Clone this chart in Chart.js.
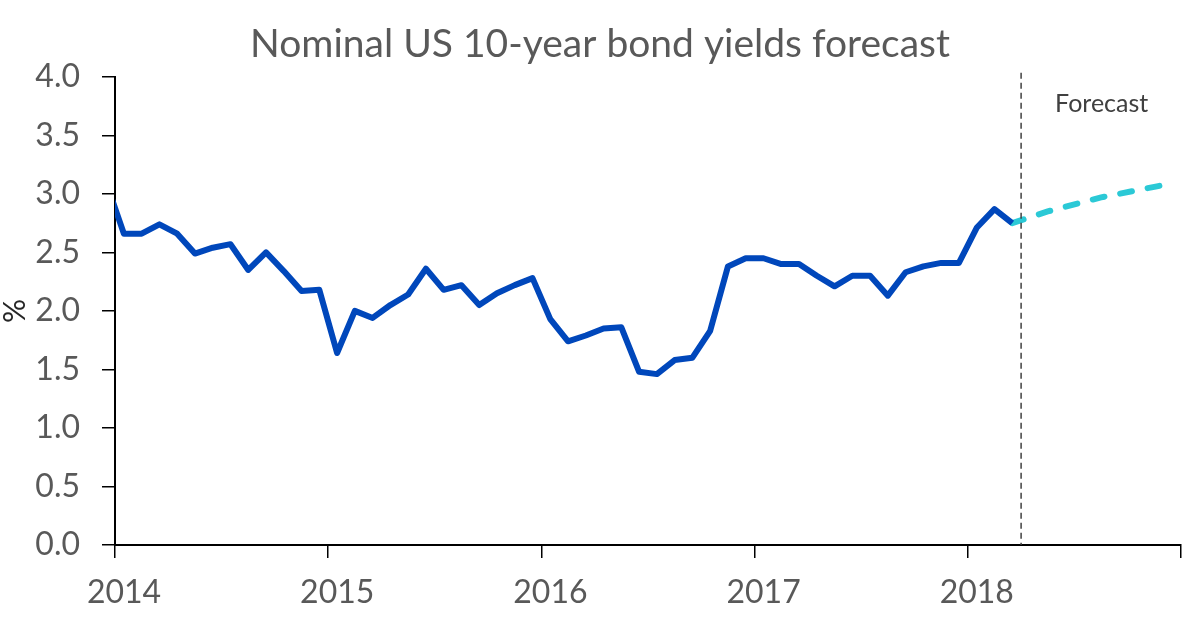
<!DOCTYPE html>
<html>
<head>
<meta charset="utf-8">
<script src="https://cdn.jsdelivr.net/npm/chart.js@4.4.1/dist/chart.umd.min.js"></script>
<style>
  html, body { margin: 0; padding: 0; background: #fff; }
  #wrap { width: 1200px; height: 632px; position: relative; }
</style>
</head>
<body>
<div id="wrap"><canvas id="grafico"></canvas></div>
<script>
// month-end yields, Dec 2013 .. Mar 2018 (Dec 2013 only enters at the left edge)
const historyValues = [
    3.10,
    2.66, 2.66, 2.74, 2.66, 2.49, 2.54, 2.57, 2.35, 2.50, 2.34, 2.17, 2.18,
    1.64, 2.00, 1.94, 2.05, 2.14, 2.36, 2.18, 2.22, 2.05, 2.15, 2.22, 2.28,
    1.93, 1.74, 1.79, 1.85, 1.86, 1.48, 1.46, 1.58, 1.60, 1.83, 2.38, 2.45,
    2.45, 2.40, 2.40, 2.30, 2.21, 2.30, 2.30, 2.13, 2.33, 2.38, 2.41, 2.41,
    2.71, 2.87, 2.75
];
// forecast, Mar 2018 .. Dec 2018
const forecastValues = [2.75, 2.80, 2.85, 2.89, 2.93, 2.97, 3.00, 3.03, 3.06, 3.09];
const yearLabels = ['2014', '2015', '2016', '2017', '2018'];
const yTicks = [0, 0.5, 1, 1.5, 2, 2.5, 3, 3.5, 4];
const forecastLabel = 'Forecast';

// months counted from Jan 2014 (month 0-based), each point sits mid-month
function mes(year, month) {
    return (year - 2014) * 12 + month + 0.5;
}

const historyPoints = historyValues.map((v, i) => ({ x: mes(2013, 11 + i), y: v }));
const forecastPoints = forecastValues.map((v, i) => ({ x: mes(2018, 2 + i), y: v }));
const forecastStart = mes(2018, 3) - 0.5; // start of April 2018

const fontFamily = 'Lato, "Open Sans", sans-serif';

const forecastMarker = {
    id: 'forecastMarker',
    afterDatasetsDraw(chart) {
        const ctx = chart.ctx;
        const x = chart.scales.x.getPixelForValue(forecastStart);
        const area = chart.chartArea;
        ctx.save();
        ctx.strokeStyle = '#404040';
        ctx.lineWidth = 1.5;
        ctx.setLineDash([6, 4]);
        ctx.beginPath();
        ctx.moveTo(x, area.top - 4);
        ctx.lineTo(x, area.bottom);
        ctx.stroke();
        ctx.setLineDash([]);
        ctx.fillStyle = '#404040';
        ctx.font = '25px ' + fontFamily;
        ctx.textAlign = 'left';
        ctx.textBaseline = 'alphabetic';
        ctx.fillText(forecastLabel, x + 34, area.top + 35);
        ctx.restore();
    }
};

document.addEventListener('DOMContentLoaded', function() {
    const ctx = document.getElementById('grafico').getContext('2d');
    window.myChart = new Chart(ctx, {
        type: 'line',
        data: {
            datasets: [{
                label: 'Actual',
                data: historyPoints,
                borderColor: '#0047BB',
                borderWidth: 6,
                pointRadius: 0,
                borderJoinStyle: 'round',
                tension: 0,
                clip: 0
            }, {
                label: 'Forecast',
                data: forecastPoints,
                borderColor: '#2BC9D6',
                borderWidth: 6,
                borderDash: [12, 16],
                borderCapStyle: 'round',
                pointRadius: 0,
                tension: 0
            }]
        },
        options: {
            responsive: true,
            maintainAspectRatio: false,
            animation: false,
            devicePixelRatio: 1,
            layout: { padding: { left: 19, right: 19, top: 0, bottom: 0 } },
            plugins: {
                legend: { display: false },
                tooltip: { enabled: false },
                title: {
                    display: true,
                    text: 'Nominal US 10-year bond yields forecast',
                    color: '#595959',
                    font: { family: fontFamily, size: 39, weight: 'normal' },
                    padding: { top: 21, bottom: 9 }
                }
            },
            scales: {
                x: {
                    type: 'linear',
                    min: 0,
                    max: 60,
                    afterFit: function(scale) { scale.height = 87; },
                    afterBuildTicks: function(scale) {
                        scale.ticks = [0, 12, 24, 36, 48, 60].map(v => ({ value: v }));
                    },
                    ticks: {
                        callback: function(value) {
                            const label = yearLabels[value / 12];
                            return label === undefined ? '' : label;
                        },
                        color: '#595959',
                        font: { family: fontFamily, size: 32 },
                        padding: 15,
                        labelOffset: 9,
                        maxRotation: 0,
                        autoSkip: false
                    },
                    grid: {
                        drawOnChartArea: false,
                        drawTicks: true,
                        tickLength: 13,
                        color: '#000',
                        lineWidth: 1.5
                    },
                    border: { display: true, color: '#000', width: 2 }
                },
                y: {
                    min: 0,
                    max: 4,
                    afterFit: function(scale) { scale.width = 96; },
                    afterBuildTicks: function(scale) {
                        scale.ticks = yTicks.map(v => ({ value: v }));
                    },
                    ticks: {
                        callback: function(value) { return value.toFixed(1); },
                        color: '#595959',
                        font: { family: fontFamily, size: 32 },
                        padding: 22
                    },
                    grid: {
                        drawOnChartArea: false,
                        drawTicks: true,
                        tickLength: 13,
                        color: '#000',
                        lineWidth: 1.5
                    },
                    border: { display: true, color: '#000', width: 2 },
                    title: {
                        display: true,
                        text: '%',
                        color: '#262626',
                        font: { family: fontFamily, size: 30, lineHeight: 1 },
                        padding: { top: -19, bottom: 0 }
                    }
                }
            }
        },
        plugins: [forecastMarker]
    });
});
</script>
</body>
</html>
